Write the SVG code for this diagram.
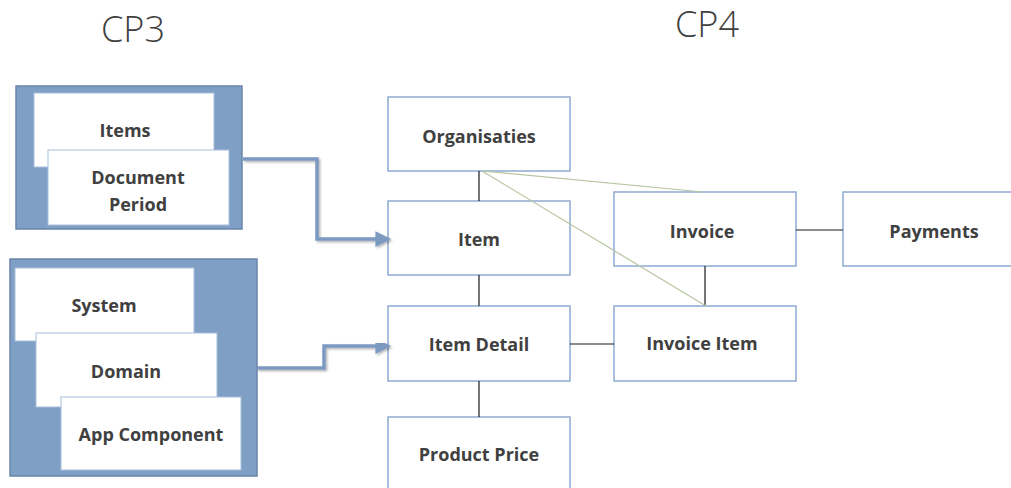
<svg xmlns="http://www.w3.org/2000/svg" width="1011" height="488" viewBox="0 0 1011 488">
  <style>
    .title { font-family: "Open Sans", "Liberation Sans", sans-serif; font-weight: 300; font-size: 36px; fill: #404040; }
    .lbl { font-family: "Open Sans", "Liberation Sans", sans-serif; font-weight: 700; font-size: 18px; fill: #404040; text-anchor: middle; }
    .box { fill: #ffffff; stroke: #8eaad2; stroke-width: 1.5; }
    .group { fill: #809fc5; stroke: #6985ab; stroke-width: 1.5; }
    .card { fill: #ffffff; stroke: #a9bfdc; stroke-width: 1; }
    .link { fill: none; stroke: #1a1a1a; stroke-width: 1.2; }
    .assoc { fill: none; stroke: #b7c6a2; stroke-width: 1.2; }
    .flow { fill: none; stroke: #7c99c2; stroke-width: 3.5; stroke-linejoin: miter; }
  </style>
  <defs>
    <marker id="head" viewBox="0 0 10 10" refX="8" refY="5" markerWidth="4.5" markerHeight="4.5" orient="auto" markerUnits="strokeWidth">
      <path d="M0,0 L10,5 L0,10 z" fill="#7c99c2"/>
    </marker>
    <filter id="shade" x="-10%" y="-10%" width="120%" height="130%">
      <feDropShadow dx="1.5" dy="1.5" stdDeviation="1" flood-color="#000" flood-opacity="0.3"/>
    </filter>
  </defs>

  <rect width="1011" height="488" fill="#ffffff"/>

  <!-- section titles -->
  <text class="title" x="101" y="42">CP3</text>
  <text class="title" x="675" y="37">CP4</text>

  <!-- CP3 source groups -->
  <g id="cp3-items">
    <rect class="group" x="16" y="86" width="226" height="143"/>
    <rect class="card" x="34" y="93" width="180" height="74"/>
    <text class="lbl" x="125" y="137">Items</text>
    <rect class="card" x="48" y="150" width="181" height="75"/>
    <text class="lbl" x="138" y="184">Document</text>
    <text class="lbl" x="138" y="211">Period</text>
  </g>

  <g id="cp3-system">
    <rect class="group" x="10" y="259" width="247" height="217"/>
    <rect class="card" x="15" y="268" width="179" height="73"/>
    <text class="lbl" x="104" y="312">System</text>
    <rect class="card" x="36" y="333" width="181" height="74"/>
    <text class="lbl" x="126" y="378">Domain</text>
    <rect class="card" x="61" y="397" width="180" height="73"/>
    <text class="lbl" x="151" y="441">App Component</text>
  </g>

  <!-- CP4 entities -->
  <g id="organisaties">
    <rect class="box" x="388" y="97" width="182" height="74"/>
    <text class="lbl" x="479" y="143">Organisaties</text>
  </g>
  <g id="item">
    <rect class="box" x="388" y="201" width="182" height="74"/>
    <text class="lbl" x="479" y="246">Item</text>
  </g>
  <g id="item-detail">
    <rect class="box" x="388" y="306" width="182" height="75"/>
    <text class="lbl" x="479" y="351">Item Detail</text>
  </g>
  <g id="product-price">
    <rect class="box" x="388" y="417" width="182" height="80"/>
    <text class="lbl" x="479" y="461">Product Price</text>
  </g>
  <g id="invoice">
    <rect class="box" x="614" y="192" width="182" height="74"/>
    <text class="lbl" x="702" y="238">Invoice</text>
  </g>
  <g id="invoice-item">
    <rect class="box" x="614" y="306" width="182" height="75"/>
    <text class="lbl" x="702" y="350">Invoice Item</text>
  </g>
  <g id="payments">
    <rect class="box" x="843" y="192" width="180" height="74"/>
    <text class="lbl" x="934" y="238">Payments</text>
  </g>

  <!-- connectors, drawn over the boxes -->
  <g id="connectors">
    <path class="flow" filter="url(#shade)" marker-end="url(#head)" d="M243,159 H317 V239 H388"/>
    <path class="flow" filter="url(#shade)" marker-end="url(#head)" d="M257,368 H324 V346 H388"/>
    <line class="link" x1="479" y1="171" x2="479" y2="201"/>
    <line class="link" x1="479" y1="275" x2="479" y2="306"/>
    <line class="link" x1="479" y1="381" x2="479" y2="417"/>
    <line class="link" x1="570" y1="344" x2="614" y2="344"/>
    <line class="link" x1="796" y1="230" x2="843" y2="230"/>
    <line class="link" x1="705" y1="266" x2="705" y2="306"/>
    <line class="assoc" x1="482" y1="171" x2="703" y2="192"/>
    <line class="assoc" x1="482" y1="171" x2="706" y2="306"/>
  </g>
</svg>
